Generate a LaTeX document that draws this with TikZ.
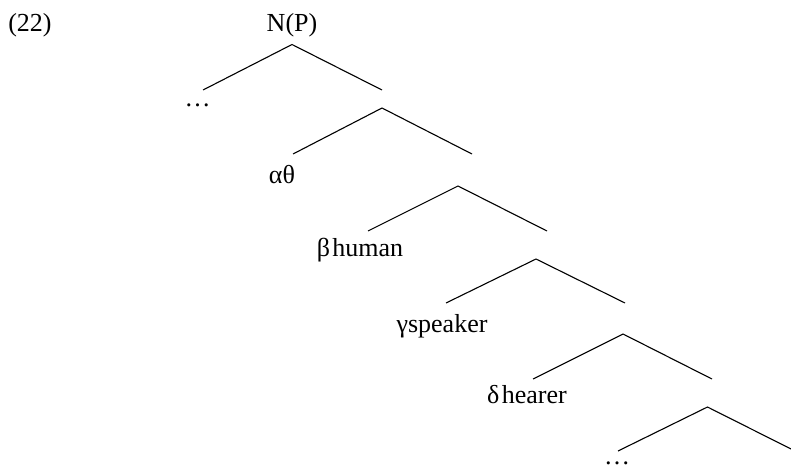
\documentclass[tikz,border=0pt]{standalone}
\usepackage{fontspec}
\setmainfont{Liberation Serif}
\begin{document}
\begin{tikzpicture}[x=0.5pt,y=-0.5pt,
	branch/.style={line width=0.55pt},
	lbl/.style={anchor=base,inner sep=0pt,font=\fontsize{13}{15}\selectfont}]
	
	\useasboundingbox (0,0) rectangle (791,466);
	
	\node[lbl] (ex) at (30,32) {(22)};
	\node[lbl] (np) at (292,32) {N(P)};
	
	\coordinate (t1) at (292,44.5);
	\coordinate (l1) at (203,90);
	\coordinate (r1) at (382,90);
	\draw[branch](l1)--(t1)--(r1);
	\node[lbl] (dots1) at (197.5,106) {…};
	
	\coordinate (t2) at (382,108);
	\coordinate (l2) at (293,154);
	\coordinate (r2) at (472,154);
	\draw[branch](l2)--(t2)--(r2);
	\node[lbl] (theta) at (282,183) {αθ};
	
	\coordinate (t3) at (458,186);
	\coordinate (l3) at (368,231);
	\coordinate (r3) at (547,231);
	\draw[branch](l3)--(t3)--(r3);
	\node[lbl] (human) at (360,256) {β\kern1.2pt human};
	
	\coordinate (t4) at (536,259);
	\coordinate (l4) at (446,303);
	\coordinate (r4) at (625,303);
	\draw[branch](l4)--(t4)--(r4);
	\node[lbl] (speaker) at (442,332) {γspeaker};
	
	\coordinate (t5) at (623,334);
	\coordinate (l5) at (533,379);
	\coordinate (r5) at (712,379);
	\draw[branch](l5)--(t5)--(r5);
	\node[lbl] (hearer) at (527,403) {δ\kern1.2pt hearer};
	
	\coordinate (t6) at (707.5,407);
	\coordinate (l6) at (618,451);
	\coordinate (r6) at (797,452);
	\draw[branch](l6)--(t6)--(r6);
	\node[lbl] (dots2) at (617,464) {…};
	
\end{tikzpicture}
\end{document}
